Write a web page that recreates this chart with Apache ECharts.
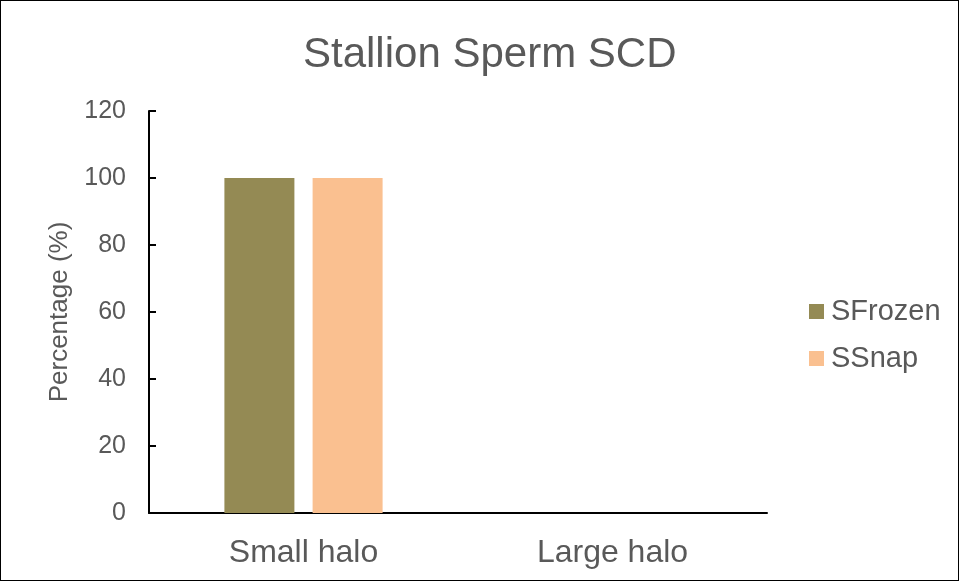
<!DOCTYPE html>
<html>
<head>
<meta charset="utf-8">
<script src="https://cdn.jsdelivr.net/npm/echarts@6/dist/echarts.min.js"></script>
<style>
  html, body { margin: 0; padding: 0; background: #fff; }
  #chart { width: 957px; height: 579px; border: 1px solid #000; }
</style>
</head>
<body>
<div id="chart"></div>
<script>
const categories = ['Small halo', 'Large halo']
const seriesNames = ['SFrozen', 'SSnap']
const sFrozen = [100, 0]
const sSnap = [100, 0]
const yTicks = { min: 0, max: 120, interval: 20 }

const textColor = '#595959'
const chart = echarts.init(document.getElementById('chart'))
const option = {
  animation: false,
  title: {
    text: 'Stallion Sperm SCD',
    left: 297,
    top: 28,
    textStyle: { fontFamily: 'Liberation Sans', fontSize: 42, fontWeight: 'normal', color: textColor }
  },
  legend: {
    orient: 'vertical',
    left: 803,
    top: 291,
    itemWidth: 15,
    itemHeight: 15,
    itemGap: 18,
    icon: 'rect',
    textStyle: { fontFamily: 'Liberation Sans', fontSize: 29, color: textColor, padding: [0, 0, 0, 2] },
    data: seriesNames
  },
  grid: { left: 148, right: 191, top: 110, bottom: 67 },
  xAxis: {
    type: 'category',
    data: categories,
    axisLine: { lineStyle: { color: '#000', width: 2 } },
    axisTick: { show: false },
    axisLabel: { fontFamily: 'Liberation Sans', fontSize: 32, color: textColor, margin: 24 }
  },
  yAxis: {
    type: 'value',
    min: yTicks.min,
    max: yTicks.max,
    interval: yTicks.interval,
    name: 'Percentage (%)',
    nameLocation: 'middle',
    nameGap: 76,
    nameTextStyle: { fontFamily: 'Liberation Sans', fontSize: 26, color: textColor },
    axisLine: { show: true, lineStyle: { color: '#000', width: 2 } },
    axisTick: { show: true, inside: true, length: 7, lineStyle: { color: '#000', width: 2 } },
    axisLabel: { fontFamily: 'Liberation Sans', fontSize: 25, color: textColor, margin: 23 },
    splitLine: { show: false }
  },
  series: [
    {
      name: seriesNames[0],
      type: 'bar',
      data: sFrozen,
      barWidth: 70,
      barGap: '26%',
      itemStyle: { color: '#948A54' }
    },
    {
      name: seriesNames[1],
      type: 'bar',
      data: sSnap,
      barWidth: 70,
      itemStyle: { color: '#FAC090' }
    }
  ]
}
option && chart.setOption(option)
</script>
</body>
</html>
